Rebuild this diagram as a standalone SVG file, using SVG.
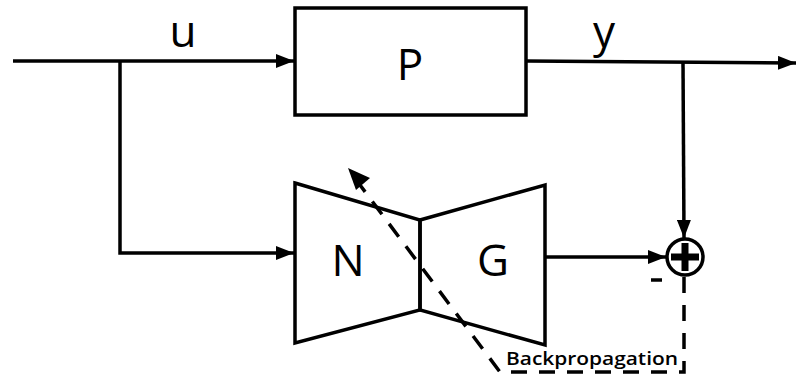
<svg xmlns="http://www.w3.org/2000/svg" width="797" height="385" viewBox="0 0 797 385">
<defs>
<marker id="ah" markerWidth="18" markerHeight="14" refX="18" refY="7" orient="auto" markerUnits="userSpaceOnUse">
<path d="M0,0 L18,7 L0,14 Z" fill="#000"/>
</marker>
</defs>
<style>
.ln{fill:none;stroke:#000;stroke-width:3.5}
.dash{fill:none;stroke:#000;stroke-width:3.5;stroke-dasharray:16,12}
.lbl{font-family:"Open Sans","Liberation Sans",sans-serif;font-size:44px;fill:#000;text-anchor:middle}
.sm{font-family:"Open Sans","Liberation Sans",sans-serif;font-size:18px;font-weight:600;fill:#000}
</style>
<rect width="797" height="385" fill="#fff"/>
<g id="connectors">
<path class="ln" d="M13,61 L294,61" marker-end="url(#ah)"/>
<path class="ln" d="M120,61 L120,253 L294,253" marker-end="url(#ah)"/>
<path class="ln" d="M526,61 L796,63" marker-end="url(#ah)"/>
<path class="ln" d="M683,62 L684,238" marker-end="url(#ah)"/>
<path class="ln" d="M545,257 L666,257" marker-end="url(#ah)"/>
<path class="dash" d="M684,277 L684,372 L500,372 L360,185"/>
<path d="M348,168 L370,178 L356,190 Z" fill="#000"/>
</g>
<g id="P">
<rect class="ln" x="295" y="8" width="231" height="107"/>
<text class="lbl" x="410" y="80">P</text>
</g>
<g id="N">
<polygon class="ln" points="295,183 420,220 420,310 295,343"/>
<text class="lbl" x="348" y="276">N</text>
</g>
<g id="G">
<polygon class="ln" points="420,220 545,185 545,345 420,310"/>
<text class="lbl" x="493" y="276">G</text>
</g>
<g id="sum">
<circle cx="685" cy="257" r="18" fill="#fff" stroke="#000" stroke-width="3.5"/>
<path d="M685,243 L685,271 M671,257 L699,257" stroke="#000" stroke-width="7"/>
<path d="M651,280 L662,280" stroke="#000" stroke-width="3.5"/>
</g>
<g id="labels">
<text class="lbl" x="183" y="47">u</text>
<text class="lbl" x="604" y="47">y</text>
<text class="sm" x="506" y="365" textLength="172" lengthAdjust="spacingAndGlyphs">Backpropagation</text>
</g>
</svg>
